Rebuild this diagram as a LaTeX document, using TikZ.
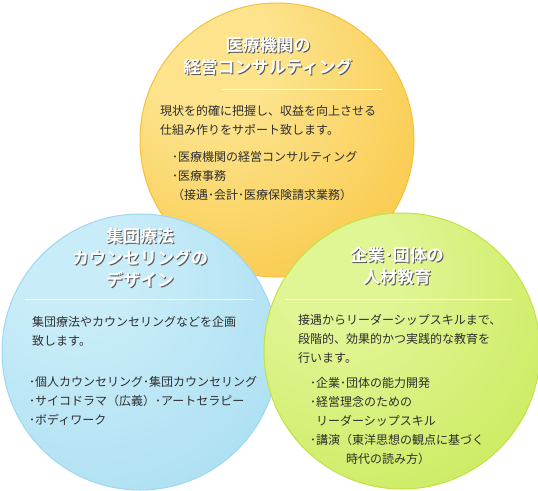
\documentclass[tikz,border=0pt]{standalone}
\usepackage{fontspec}
\setmainfont{Noto Sans CJK JP}
\newfontfamily\ttlfont{Noto Sans CJK JP}[UprightFont={* Bold}]
\usetikzlibrary{positioning}
\definecolor{orangelight}{HTML}{FCE38C}
\definecolor{orangedeep}{HTML}{F8BC28}
\definecolor{orangerim}{HTML}{F6C03A}
\definecolor{bluelight}{HTML}{C8ECF8}
\definecolor{bluedeep}{HTML}{9ED9F0}
\definecolor{bluerim}{HTML}{9CD8EF}
\definecolor{greenlight}{HTML}{E0F594}
\definecolor{greendeep}{HTML}{C2E645}
\definecolor{greenrim}{HTML}{C0E244}
\definecolor{textdark}{HTML}{2E2E2E}
\definecolor{titleshade}{HTML}{555555}

\pgfdeclareradialshading{orangeball}{\pgfpoint{-14bp}{18bp}}{%
  color(0bp)=(orangelight); color(12bp)=(orangelight);
  color(56bp)=(orangedeep); color(90bp)=(orangedeep)}
\pgfdeclareradialshading{blueball}{\pgfpoint{-14bp}{18bp}}{%
  color(0bp)=(bluelight); color(12bp)=(bluelight);
  color(56bp)=(bluedeep); color(90bp)=(bluedeep)}
\pgfdeclareradialshading{greenball}{\pgfpoint{-14bp}{18bp}}{%
  color(0bp)=(greenlight); color(12bp)=(greenlight);
  color(56bp)=(greendeep); color(90bp)=(greendeep)}

\begin{document}
\begin{tikzpicture}[
    x=1pt, y=-1pt,
    ball/.style={circle, inner sep=0pt, line width=1pt, shade},
    ttl/.style={
        font=\fontsize{17}{22}\selectfont\ttlfont, text=white,
        align=center, inner sep=0pt
    },
    ttlshade/.style={ttl, text=titleshade},
    body/.style={
        font=\fontsize{12}{19}\selectfont, text=textdark,
        align=left, anchor=north west, inner sep=0pt
    },
    sepline/.style={draw=white, line width=0.8pt},
]
\useasboundingbox (0,0) rectangle (538,490);

% ============ TOP: 医療機関 ============
\node[ball, shading=orangeball, draw=orangerim, minimum size=274pt] (maruA) at (277,140) {};
\node[ttlshade] (ttlAs) at (269,57.5) {医療機関の\\経営コンサルティング};
\node[ttl] (ttlA) at ([shift={(-1,-1)}]ttlAs.center) {医療機関の\\経営コンサルティング};
\coordinate (sepAl) at (222,89);
\coordinate (sepAr) at (382,89);
\draw[sepline] (sepAl) -- (sepAr);
\node[body] (txtA) at (160,105) {現状を的確に把握し、収益を向上させる\\仕組み作りをサポート致します。};
\node[body] (lstA) at (172,151) {･医療機関の経営コンサルティング\\･医療事務\\（接遇･会計･医療保険請求業務）};

% ============ LEFT: 集団療法 ============
\node[ball, shading=blueball, draw=bluerim, minimum size=276pt] (maruB) at (140,352) {};
\node[ttlshade] (ttlBs) at (141,259) {集団療法\\カウンセリングの\\デザイン};
\node[ttl] (ttlB) at ([shift={(-1,-1)}]ttlBs.center) {集団療法\\カウンセリングの\\デザイン};
\coordinate (sepBl) at (25,299);
\coordinate (sepBr) at (253,299);
\draw[sepline] (sepBl) -- (sepBr);
\node[body] (txtB) at (32,316) {集団療法やカウンセリングなどを企画\\致します。};
\node[body] (lstB) at (29,376) {･個人カウンセリング･集団カウンセリング\\･サイコドラマ（広義）･アートセラピー\\･ボディワーク};

% ============ RIGHT: 企業・団体 ============
\node[ball, shading=greenball, draw=greenrim, minimum size=276pt] (maruC) at (402,351) {};
\node[ttlshade] (ttlCs) at (398,267) {企業･団体の\\人材教育};
\node[ttl] (ttlC) at ([shift={(-1,-1)}]ttlCs.center) {企業･団体の\\人材教育};
\coordinate (sepCl) at (285,299);
\coordinate (sepCr) at (512,299);
\draw[sepline] (sepCl) -- (sepCr);
\node[body] (txtC) at (298,314) {接遇からリーダーシップスキルまで、\\段階的、効果的かつ実践的な教育を\\行います。};
\node[body] (lstC) at (310,377) {･企業･団体の能力開発\\･経営理念のための\\\hspace*{6pt}リーダーシップスキル\\･講演（東洋思想の観点に基づく\\\hspace*{36pt}時代の読み方）};

\end{tikzpicture}
\end{document}
